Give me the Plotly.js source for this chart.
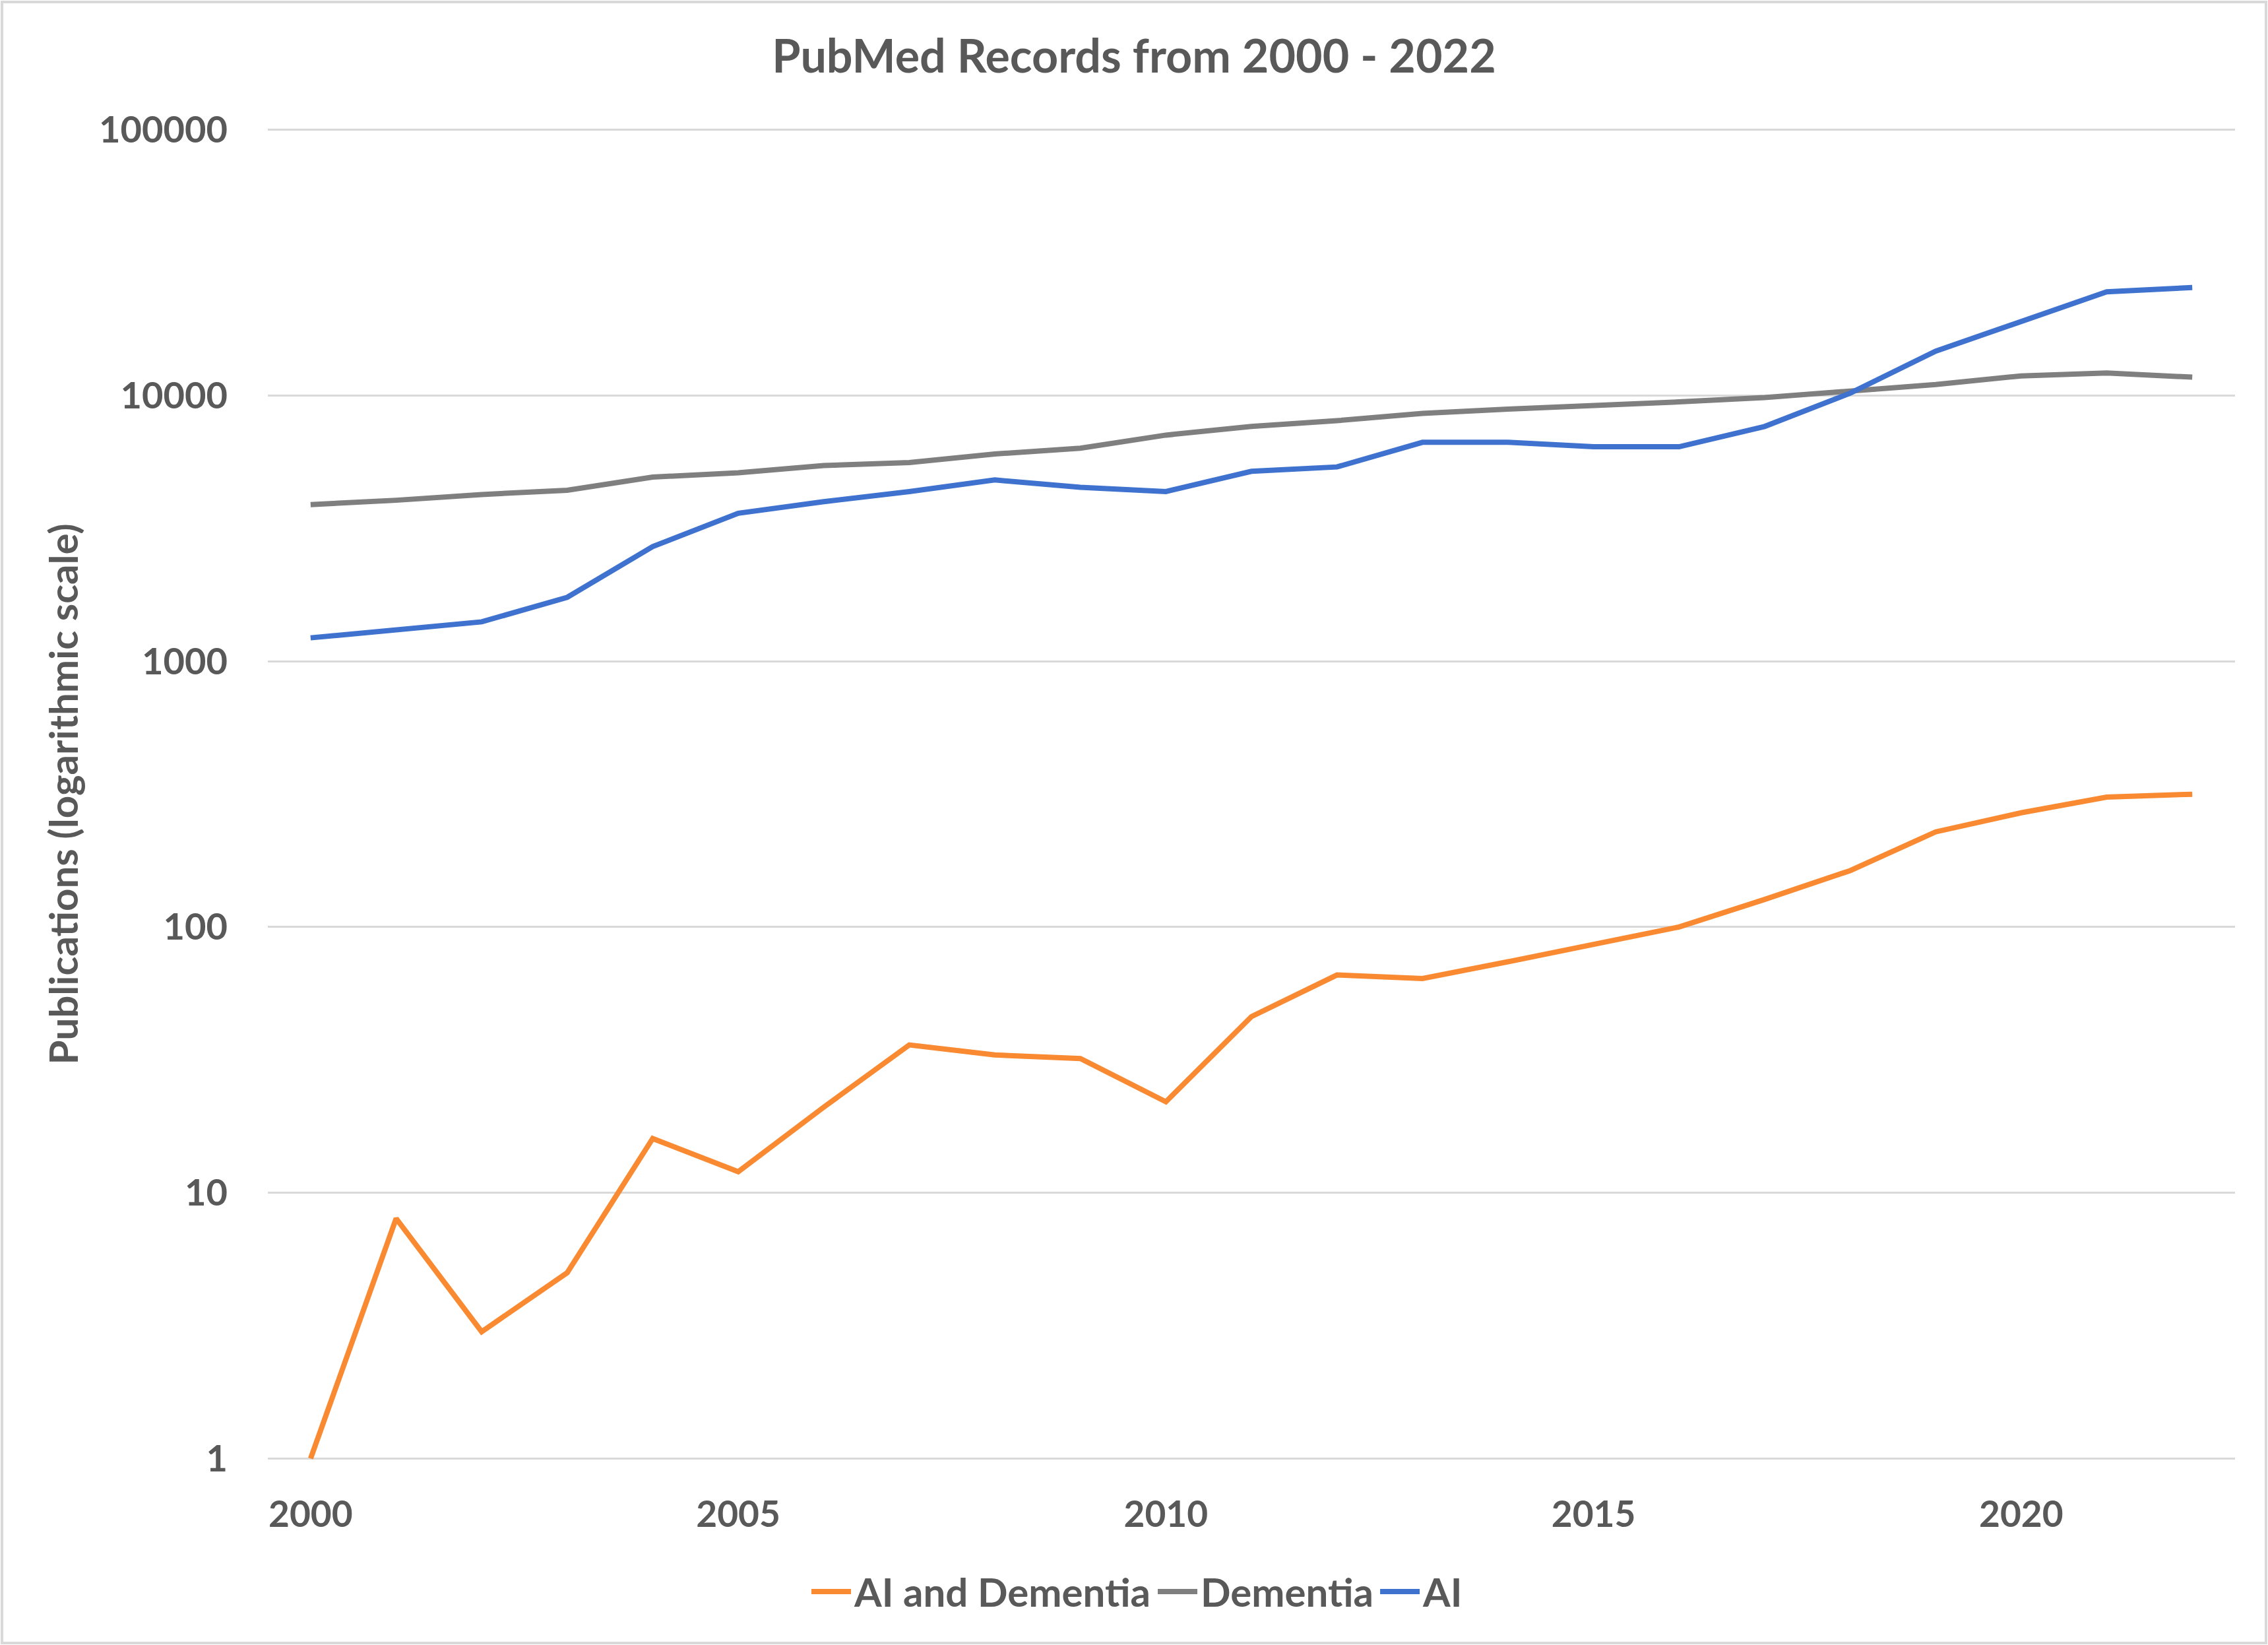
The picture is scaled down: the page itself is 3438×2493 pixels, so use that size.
<!DOCTYPE html>
<html>
<head>
<meta charset="utf-8">
<script src="https://cdn.plot.ly/plotly-3.0.1.min.js"></script>
<style>
html,body{margin:0;padding:0;background:#fff;}
#chart{width:3438px;height:2493px;}
</style>
</head>
<body>
<div id="chart"></div>
<script>
const years = [2000,2001,2002,2003,2004,2005,2006,2007,2008,2009,2010,2011,2012,2013,2014,2015,2016,2017,2018,2019,2020,2021,2022];
const aiAndDementia = [1,8,3,5,16,12,21,36,33,32,22,46,66,64,74,86,100,127,163,228,269,308,316];
const dementia = [3885,4035,4240,4400,4930,5120,5450,5590,6025,6335,7095,7645,8040,8560,8890,9120,9460,9820,10330,10990,11850,12150,11720];
const ai = [1225,1320,1407,1740,2700,3605,3985,4350,4810,4515,4350,5185,5385,6665,6665,6415,6415,7645,10200,14690,18880,24550,25480];
const seriesNames = ["AI and Dementia","Dementia","AI"];
const seriesColors = ["#F98A32","#7F7F7F","#3F72CF"];
const yTickVals = [1,10,100,1000,10000,100000];
const yTickText = ["1","10","100","1000","10000","100000"];
const xTickVals = [2000,2005,2010,2015,2020];

const W = 3438, H = 2493;
const pad = 0.004;
const dec = (2210-197)/5;
const M = {l:406, r:50, t:Math.round(197 - pad*dec), b:Math.round(283 - pad*dec)};
const pw = W - M.l - M.r, ph = H - M.t - M.b;
const txt = "#595959";
const fam = "Lato, 'Open Sans', sans-serif";

const data = [aiAndDementia, dementia, ai].map((vals,i)=>({
  x: years, y: vals, type:"scatter", mode:"lines", name: seriesNames[i],
  line:{color: seriesColors[i], width:8}
}));

const layout = {
  width: W, height: H,
  margin: M,
  paper_bgcolor:"#fff", plot_bgcolor:"#fff",
  font:{family: fam, color: txt, size: 56, weight: 700},
  title:{text:"PubMed Records from 2000 - 2022", x:0.5, xanchor:"center", y: 1-85/H, yanchor:"middle",
         font:{family: fam, size: 70, color: txt, weight: 700}},
  xaxis:{range:[1999.5,2022.5], tickvals:xTickVals, ticktext:xTickVals.map(String),
         showgrid:false, zeroline:false, showline:false, ticks:"", ticklen:0,
         ticklabelstandoff: 46,
         tickfont:{family:fam, size:55, color:txt, weight:700}},
  yaxis:{type:"log", range:[-pad,5+pad], tickvals:yTickVals, ticktext:yTickText,
         showgrid:true, gridcolor:"#D9D9D9", gridwidth:3, zeroline:false, showline:false,
         ticks:"", ticklabelstandoff: 60,
         tickfont:{family:fam, size:56, color:txt, weight:700},
         title:{text:"Publications (logarithmic scale)", standoff: 12,
                font:{family:fam, size:60, color:txt, weight:700}}},
  showlegend:true,
  legend:{orientation:"h", x:(1724-M.l)/pw, xanchor:"center", y:-(2412-M.t-ph)/ph, yanchor:"middle",
          font:{family:fam, size:60, color:txt, weight:700}, itemwidth:60, traceorder:"normal"},
  shapes:[{type:"rect", xref:"paper", yref:"paper",
           x0:-(M.l-3)/pw, x1:1+(M.r-3)/pw, y0:-(M.b-3)/ph, y1:1+(M.t-3)/ph,
           line:{color:"#D9D9D9", width:4}, fillcolor:"rgba(0,0,0,0)", layer:"below"}]
};

Plotly.newPlot("chart", data, layout, {staticPlot:true, displayModeBar:false});
</script>
</body>
</html>
